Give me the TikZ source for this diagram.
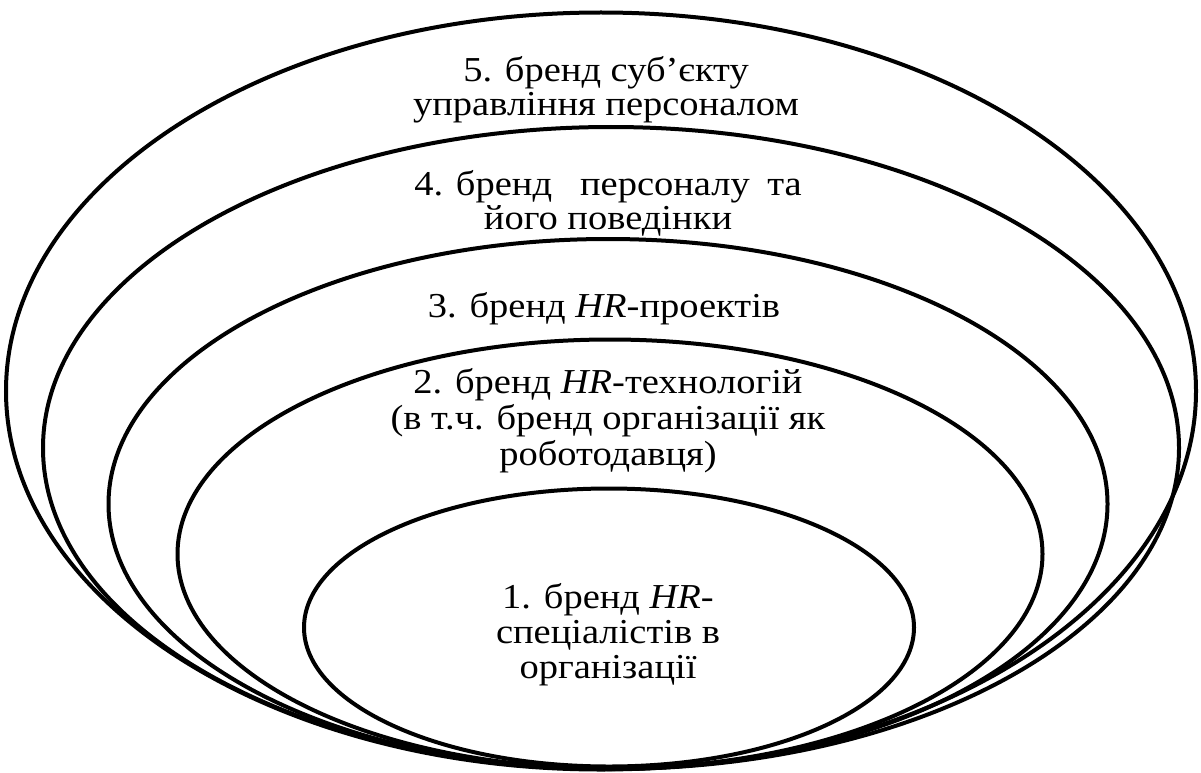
\documentclass[tikz,border=0pt]{standalone}
\usepackage{fontspec}
\setmainfont{Liberation Serif}[FakeStretch=1.1]
\usetikzlibrary{shapes.geometric}
\tikzset{
  ring/.style={draw=black, line width=4pt, ellipse, inner sep=0pt, outer sep=0pt},
  txt/.style={align=center, inner sep=0pt, font=\fontsize{35}{34}\selectfont}
}
\begin{document}
\begin{tikzpicture}[x=1pt,y=-1pt]
\useasboundingbox (0,0) rectangle (1201,773);
\node[ring, minimum width=1190pt, minimum height=757pt] (e5) at (601,391) {};
\node[ring, minimum width=1136pt, minimum height=642pt] (e4) at (611,448) {};
\node[ring, minimum width=999pt, minimum height=530pt] (e3) at (608,504) {};
\node[ring, minimum width=865pt, minimum height=429pt] (e2) at (610,554) {};
\node[ring, minimum width=610pt, minimum height=278pt] (e1) at (609,627.5) {};
\node[txt] (t5) at (606,90) {5. бренд суб’єкту\\управління персоналом};
\node[txt] (t4) at (608,203) {4. бренд\hspace{0.8em}персоналу\hspace{0.5em}та\\його поведінки};
\node[txt] (t3) at (604,309) {3. бренд \textit{HR}-проектів};
\node[txt, font=\fontsize{35}{36}\selectfont] (t2) at (608,421) {2. бренд \textit{HR}-технологій\\(в т.ч. бренд організації як\\роботодавця)};
\node[txt, font=\fontsize{35}{35}\selectfont] (t1) at (608,635) {1. бренд \textit{HR}-\\спеціалістів в\\організації};
\end{tikzpicture}
\end{document}
